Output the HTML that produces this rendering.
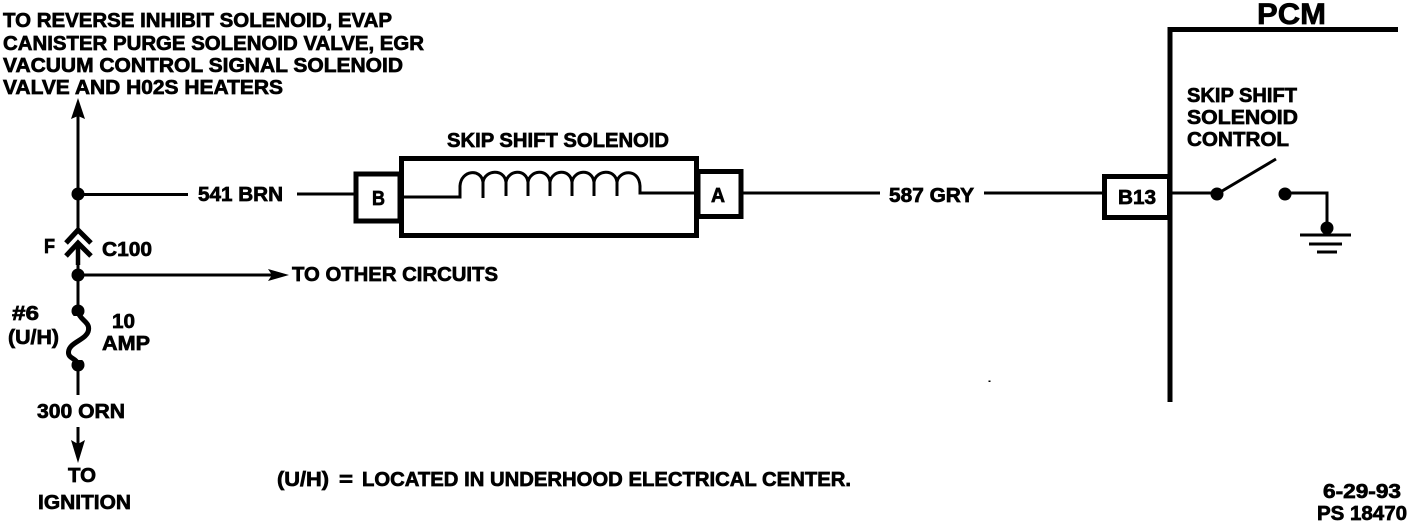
<!DOCTYPE html>
<html><head><meta charset="utf-8"><style>
html,body{margin:0;padding:0;background:#fff;width:1408px;height:522px;overflow:hidden}
svg{display:block}
text{font-family:"Liberation Sans",sans-serif;font-weight:700;font-size:20px;fill:#000;stroke:#000;stroke-width:.7}
.l{stroke:#000;fill:none;stroke-width:3}
</style></head><body>
<svg width="1408" height="522" viewBox="0 0 1408 522" xmlns="http://www.w3.org/2000/svg">
<rect width="1408" height="522" fill="#fff"/>
<!-- left trunk -->
<path class="l" d="M78 112V395M78 427V450M78 194.5H188M297 194H356M78 275H272"/>
<path d="M78 98L85 119L78 116L71 119Z"/>
<path d="M78 463L71 440L78 444L85 440Z"/>
<path d="M289 275L268 269L272 275L268 281Z"/>
<circle cx="78" cy="194" r="6.5"/><circle cx="78" cy="275" r="6.5"/><circle cx="78" cy="311" r="6.5"/><circle cx="78" cy="365" r="6.5"/>
<rect x="66" y="228" width="26" height="30" fill="#fff"/>
<path class="l" style="stroke-width:5" d="M66 243L78 230L91 243M66 256L78 243L91 256"/>
<path class="l" style="stroke-width:4.5" d="M78 244V265"/>
<rect x="64" y="316" width="30" height="44" fill="#fff"/>
<path class="l" style="stroke-width:5" d="M78 312C80 320 90 322 88.500 330C87 340 69 342 68.500 352C68 359 77 358 78 365"/>
<!-- solenoid -->
<rect x="401.500" y="158.500" width="295" height="77" fill="#fff" stroke="#000" stroke-width="5"/>
<rect x="356" y="174" width="44" height="47" fill="#fff" stroke="#000" stroke-width="5"/>
<rect x="698" y="171.500" width="43" height="45" fill="#fff" stroke="#000" stroke-width="5"/>
<path class="l" d="M404 197H460V186C461 170 481 168 483 182C485 170 504 168 506 182C508 170 526 168 528 182C530 170 548 168 550 182C552 170 570 168 572 182C574 170 592 168 594 182C596 170 615 168 617 182C619 170 639 168 640 186V193H695"/>
<path class="l" d="M483 180V198M506 180V196M528 180V196M550 180V196M572 180V196M594 180V196M617 180V196"/>
<path class="l" d="M742 193H880M984 193H1104"/>
<!-- PCM -->
<path class="l" style="stroke-width:5" d="M1170 402V29.500H1398"/>
<rect x="1104.500" y="176.500" width="65" height="41" fill="#fff" stroke="#000" stroke-width="5"/>
<path class="l" d="M1172 193H1216M1217 194L1276 159M1285 193H1327V228"/>
<circle cx="1217" cy="194" r="6.500"/><circle cx="1285" cy="194" r="6.500"/><circle cx="1327" cy="228" r="6.500"/>
<path class="l" d="M1300 235H1351M1309 244H1342M1317 252H1337"/>
<rect x="988.500" y="380.500" width="2" height="1.500"/>
<!-- text -->
<text x="3" y="27" textLength="389" lengthAdjust="spacingAndGlyphs">TO REVERSE INHIBIT SOLENOID, EVAP</text>
<text x="3" y="50" textLength="421" lengthAdjust="spacingAndGlyphs">CANISTER PURGE SOLENOID VALVE, EGR</text>
<text x="3" y="72" textLength="400" lengthAdjust="spacingAndGlyphs">VACUUM CONTROL SIGNAL SOLENOID</text>
<text x="3" y="94" textLength="280" lengthAdjust="spacingAndGlyphs">VALVE AND H02S HEATERS</text>
<text x="447" y="147" textLength="222" lengthAdjust="spacingAndGlyphs">SKIP SHIFT SOLENOID</text>
<text x="198" y="201" textLength="85" lengthAdjust="spacingAndGlyphs">541 BRN</text>
<text x="889" y="202" textLength="85" lengthAdjust="spacingAndGlyphs">587 GRY</text>
<text x="372" y="205" textLength="13" lengthAdjust="spacingAndGlyphs">B</text>
<text x="711" y="202" textLength="14" lengthAdjust="spacingAndGlyphs">A</text>
<text x="1118" y="204" textLength="38" lengthAdjust="spacingAndGlyphs">B13</text>
<text x="1257" y="24" style="font-size:30px" textLength="69" lengthAdjust="spacingAndGlyphs">PCM</text>
<text x="1187" y="102" textLength="110" lengthAdjust="spacingAndGlyphs">SKIP SHIFT</text>
<text x="1187" y="124" textLength="111" lengthAdjust="spacingAndGlyphs">SOLENOID</text>
<text x="1187" y="146" textLength="102" lengthAdjust="spacingAndGlyphs">CONTROL</text>
<text x="44" y="253" textLength="11" lengthAdjust="spacingAndGlyphs">F</text>
<text x="102" y="256" textLength="50" lengthAdjust="spacingAndGlyphs">C100</text>
<text x="292" y="281" textLength="206" lengthAdjust="spacingAndGlyphs">TO OTHER CIRCUITS</text>
<text x="12" y="320" textLength="27" lengthAdjust="spacingAndGlyphs">#6</text>
<text x="8" y="344" textLength="51" lengthAdjust="spacingAndGlyphs">(U/H)</text>
<text x="112" y="328" textLength="23" lengthAdjust="spacingAndGlyphs">10</text>
<text x="102" y="350" textLength="48" lengthAdjust="spacingAndGlyphs">AMP</text>
<text x="37" y="418" textLength="88" lengthAdjust="spacingAndGlyphs">300 ORN</text>
<text x="68" y="482" textLength="28" lengthAdjust="spacingAndGlyphs">TO</text>
<text x="38" y="509" textLength="93" lengthAdjust="spacingAndGlyphs">IGNITION</text>
<text x="277" y="486" textLength="52" lengthAdjust="spacingAndGlyphs">(U/H)</text>
<text x="339" y="486" textLength="14" lengthAdjust="spacingAndGlyphs">=</text>
<text x="362" y="486" textLength="489" lengthAdjust="spacingAndGlyphs">LOCATED IN UNDERHOOD ELECTRICAL CENTER.</text>
<text x="1323" y="498" textLength="78" lengthAdjust="spacingAndGlyphs">6-29-93</text>
<text x="1317" y="520" textLength="90" lengthAdjust="spacingAndGlyphs">PS 18470</text>
</svg>
</body></html>
